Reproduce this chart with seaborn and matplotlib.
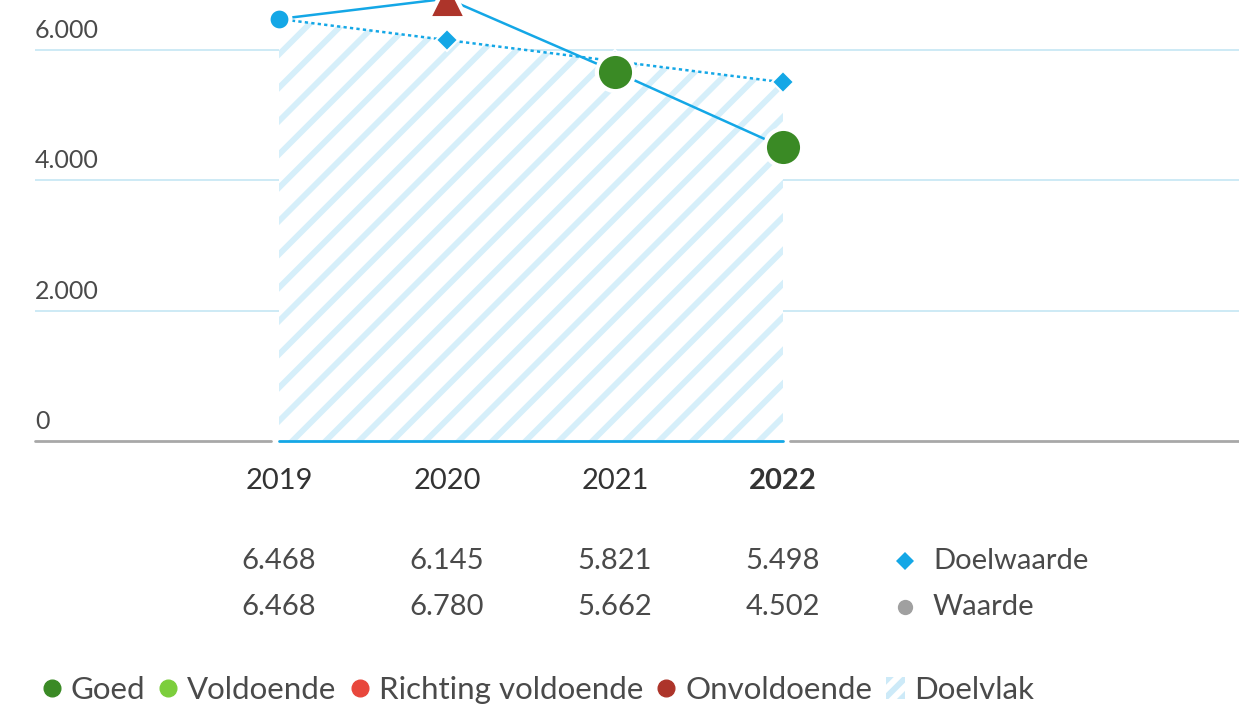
import pandas as pd
import seaborn as sns
import matplotlib.pyplot as plt
import matplotlib.transforms as mtransforms
from matplotlib.lines import Line2D
from matplotlib.patches import Patch

# --- DATA ---
jaren = ["2019", "2020", "2021", "2022"]
doelwaarde = [6468, 6145, 5821, 5498]
waarde = [6468, 6780, 5662, 4502]
status = ["basis", "Onvoldoende", "Goed", "Goed"]

legend_labels = ["Goed", "Voldoende", "Richting voldoende", "Onvoldoende", "Doelvlak"]
ytick_vals = [0, 2000, 4000, 6000]
ytick_labels = ["0", "2.000", "4.000", "6.000"]

# --- STYLE ---
BLUE = "#14a7e6"
GRID = "#c9e8f4"
TXT = "#4a4a4a"
status_colors = {"basis": BLUE, "Goed": "#3a8a25", "Voldoende": "#7cce3c",
                 "Richting voldoende": "#e8473c", "Onvoldoende": "#ad342a"}
status_markers = {"basis": "o", "Goed": "o", "Onvoldoende": "^",
                  "Voldoende": "o", "Richting voldoende": "o"}
status_sizes = {"basis": 250, "Goed": 720, "Onvoldoende": 720}

sns.set_theme(style="white")
plt.rcParams["font.family"] = ["Lato", "DejaVu Sans"]
plt.rcParams["hatch.linewidth"] = 4.2

df = pd.DataFrame({"x": range(len(jaren)), "jaar": jaren,
                   "doel": doelwaarde, "waarde": waarde, "status": status})

W, H = 1239, 712
fig = plt.figure(figsize=(W / 100, H / 100), dpi=100)
ax = fig.add_axes([35 / W, (H - 441) / H, 1 - 35 / W, 441 / H])
ax.set_xlim(-(279 - 35) / 168, 3 + (W - 783) / 168)
ax.set_ylim(0, 6759)
ax.axis("off")

# gridlines + y labels
for v in ytick_vals[1:]:
    ax.axhline(v, color=GRID, lw=1.3, zorder=0)
for v, lab in zip(ytick_vals, ytick_labels):
    ax.annotate(lab, xy=(0, v), xycoords=("axes fraction", "data"),
                xytext=(0, 14), textcoords="offset points",
                ha="left", va="center", fontsize=18, color=TXT)

# doelvlak (hatched)
ax.fill_between(df["x"], 0, df["doel"], facecolor="white", edgecolor="#d6effa",
                hatch="/", linewidth=0, zorder=1)

# baseline
xl = ax.get_xlim()
ax.plot([xl[0], -0.05], [0, 0], color="#a8a8a8", lw=2, clip_on=False, zorder=2)
ax.plot([3.04, xl[1]], [0, 0], color="#a8a8a8", lw=2, clip_on=False, zorder=2)
ax.plot([0, 3], [0, 0], color=BLUE, lw=2, clip_on=False, zorder=2)

# doelwaarde line
sns.lineplot(data=df, x="x", y="doel", ax=ax, color=BLUE, lw=1.8,
             linestyle=(0, (1.3, 1.3)), marker="D", markersize=11,
             markeredgecolor="white", markeredgewidth=1.5, zorder=3)
# waarde line
sns.lineplot(data=df, x="x", y="waarde", ax=ax, color=BLUE, lw=1.8, zorder=4)
# status markers
for st, g in df.groupby("status"):
    sns.scatterplot(data=g, x="x", y="waarde", ax=ax, color=status_colors[st],
                    marker=status_markers[st], s=status_sizes[st],
                    edgecolor="white", linewidth=3, zorder=5, clip_on=False)
ax.set_xlabel("")
ax.set_ylabel("")

# x labels
for i, j in enumerate(jaren):
    ax.annotate(j, xy=(i, 0), xycoords="data", xytext=(0, -29),
                textcoords="offset points", ha="center", va="center",
                fontsize=21, color="#333333",
                fontweight="bold" if i == len(jaren) - 1 else "normal")

# table values
for i in range(len(jaren)):
    for vals, dy in ((doelwaarde, -86.5), (waarde, -119.5)):
        ax.annotate(f"{vals[i]:,}".replace(",", "."), xy=(i, 0), xycoords="data",
                    xytext=(0, dy), textcoords="offset points", ha="center",
                    va="center", fontsize=21, color=TXT)

# table legend
for lab, mk, col, dy in (("Doelwaarde", "D", BLUE, -86.5), ("Waarde", "o", "#a0a0a0", -119.5)):
    off = mtransforms.ScaledTranslation(0, dy / 72, fig.dpi_scale_trans)
    ax.plot([3.726], [0], marker=mk, color=col, markersize=9 if mk == "D" else 11,
            markeredgewidth=0, clip_on=False, transform=ax.transData + off)
    ax.annotate(lab, xy=(3.893, 0), xycoords="data", xytext=(0, dy),
                textcoords="offset points", ha="left", va="center",
                fontsize=21, color=TXT)

# bottom legend
handles = [Line2D([], [], marker="o", ls="", color=status_colors[k], markersize=12)
           for k in legend_labels[:4]]
handles.append(Patch(facecolor="white", edgecolor="#cdeaf8", hatch="//", linewidth=0))
fig.legend(handles, legend_labels, loc="center left", bbox_to_anchor=(14 / W, 1 - 690 / H),
           ncol=5, frameon=False, fontsize=22.5, handlelength=0.6, handletextpad=0.3,
           columnspacing=0.45, labelcolor=TXT)

fig.savefig("out.png", dpi=100)
